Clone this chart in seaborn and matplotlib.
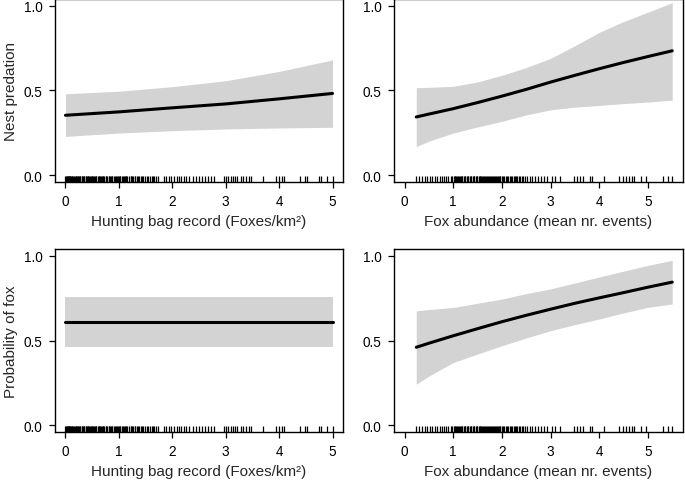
import matplotlib
matplotlib.use("Agg")
import matplotlib.pyplot as plt
import seaborn as sns

# x grids of the fitted curves
hunting_x = [0, 1, 2, 3, 4, 5]
fox_x = [0.24, 0.5, 1, 1.5, 2, 2.5, 3, 3.5, 4, 4.5, 5, 5.5]

# nest predation ~ hunting bag
pred_hunt_fit = [0.353, 0.373, 0.397, 0.420, 0.450, 0.482]
pred_hunt_hi = [0.480, 0.495, 0.522, 0.557, 0.612, 0.680]
pred_hunt_lo = [0.228, 0.248, 0.262, 0.272, 0.278, 0.282]

# nest predation ~ fox abundance
pred_fox_fit = [0.343, 0.360, 0.392, 0.428, 0.466, 0.506, 0.549, 0.589, 0.628, 0.665, 0.700, 0.734]
pred_fox_hi = [0.516, 0.518, 0.524, 0.550, 0.589, 0.635, 0.689, 0.764, 0.843, 0.907, 0.962, 1.018]
pred_fox_lo = [0.168, 0.200, 0.248, 0.284, 0.317, 0.355, 0.385, 0.401, 0.411, 0.422, 0.431, 0.442]

# probability of fox ~ hunting bag (flat)
pfox_hunt_fit = [0.612, 0.612, 0.612, 0.612, 0.612, 0.612]
pfox_hunt_hi = [0.758, 0.758, 0.758, 0.758, 0.758, 0.758]
pfox_hunt_lo = [0.463, 0.463, 0.463, 0.463, 0.463, 0.463]

# probability of fox ~ fox abundance
pfox_fox_fit = [0.460, 0.484, 0.528, 0.570, 0.611, 0.649, 0.685, 0.720, 0.752, 0.783, 0.815, 0.845]
pfox_fox_hi = [0.675, 0.683, 0.695, 0.720, 0.745, 0.777, 0.805, 0.840, 0.875, 0.910, 0.944, 0.974]
pfox_fox_lo = [0.242, 0.290, 0.370, 0.420, 0.469, 0.515, 0.558, 0.594, 0.627, 0.663, 0.696, 0.716]

# observed covariate values (rug)
hunting_bag = [0.00, 0.01, 0.02, 0.03, 0.04, 0.05, 0.06, 0.07, 0.08, 0.09, 0.11, 0.12,
               0.13, 0.15, 0.16, 0.17, 0.19, 0.20, 0.21, 0.23, 0.24, 0.26, 0.27, 0.28,
               0.30, 0.31, 0.33, 0.34, 0.35, 0.38, 0.39, 0.40, 0.42, 0.43, 0.44, 0.46,
               0.47, 0.49, 0.50, 0.52, 0.53, 0.55, 0.57, 0.58, 0.60, 0.62, 0.63, 0.65,
               0.66, 0.68, 0.70, 0.71, 0.72, 0.75, 0.76, 0.78, 0.81, 0.82, 0.83, 0.86,
               0.87, 0.88, 0.91, 0.92, 0.94, 0.97, 0.98, 1.00, 1.02, 1.03, 1.05, 1.08,
               1.09, 1.11, 1.13, 1.14, 1.16, 1.19, 1.22, 1.23, 1.25, 1.27, 1.30, 1.31,
               1.34, 1.36, 1.38, 1.41, 1.44, 1.46, 1.48, 1.52, 1.55, 1.58, 1.62, 1.63,
               1.66, 1.70, 1.74, 1.85, 1.88, 1.93, 1.97, 2.04, 2.08, 2.12, 2.17, 2.22,
               2.26, 2.32, 2.38, 2.44, 2.50, 2.56, 2.62, 2.66, 2.72, 2.78, 2.97, 3.01,
               3.05, 3.09, 3.13, 3.18, 3.22, 3.28, 3.33, 3.38, 3.44, 3.47, 3.69, 3.94,
               4.00, 4.05, 4.10, 4.40, 4.48, 4.53, 4.75, 4.78, 4.90, 5.00]
fox_abundance = [0.24, 0.30, 0.36, 0.41, 0.47, 0.52, 0.56, 0.62, 0.67, 0.72, 0.76, 0.82,
                 0.86, 0.90, 0.95, 0.98, 1.01, 1.03, 1.04, 1.06, 1.07, 1.10, 1.12, 1.13,
                 1.16, 1.18, 1.19, 1.22, 1.24, 1.25, 1.28, 1.30, 1.31, 1.34, 1.36, 1.37,
                 1.40, 1.42, 1.43, 1.46, 1.48, 1.49, 1.52, 1.54, 1.55, 1.58, 1.60, 1.61,
                 1.64, 1.66, 1.67, 1.70, 1.72, 1.73, 1.76, 1.78, 1.79, 1.82, 1.84, 1.85,
                 1.88, 1.90, 1.91, 1.94, 1.96, 1.97, 2.00, 2.02, 2.04, 2.08, 2.10, 2.12,
                 2.16, 2.18, 2.20, 2.24, 2.26, 2.28, 2.32, 2.35, 2.37, 2.42, 2.44, 2.47,
                 2.52, 2.57, 2.62, 2.68, 2.74, 2.80, 2.87, 2.93, 3.02, 3.10, 3.20, 3.48,
                 3.54, 3.60, 3.66, 3.80, 3.86, 4.10, 4.41, 4.48, 4.55, 4.62, 4.68, 4.72,
                 4.86, 4.97, 5.31, 5.42, 5.50]

sns.set_style("ticks")
plt.rcParams['font.family'] = ['Liberation Sans', 'DejaVu Sans']

fig = plt.figure(figsize=(6.85, 4.81), dpi=100)

panels = [
    # (rect, x, fit, hi, lo, rug, xlim, xlabel, ylabel)
    ([0.080, 0.620, 0.421, 0.380], hunting_x, pred_hunt_fit, pred_hunt_hi, pred_hunt_lo,
     hunting_bag, (-0.2, 5.2), "Hunting bag record (Foxes/km²)", "Nest predation"),
    ([0.575, 0.620, 0.422, 0.380], fox_x, pred_fox_fit, pred_fox_hi, pred_fox_lo,
     fox_abundance, (-0.22, 5.72), "Fox abundance (mean nr. events)", ""),
    ([0.080, 0.100, 0.421, 0.380], hunting_x, pfox_hunt_fit, pfox_hunt_hi, pfox_hunt_lo,
     hunting_bag, (-0.2, 5.2), "Hunting bag record (Foxes/km²)", "Probability of fox"),
    ([0.575, 0.100, 0.422, 0.380], fox_x, pfox_fox_fit, pfox_fox_hi, pfox_fox_lo,
     fox_abundance, (-0.22, 5.72), "Fox abundance (mean nr. events)", ""),
]

for rect, x, fit, hi, lo, rug, xlim, xlabel, ylabel in panels:
    ax = fig.add_axes(rect)
    ax.fill_between(x, lo, hi, color="#d3d3d3", linewidth=0)
    sns.lineplot(x=x, y=fit, ax=ax, color="black", linewidth=2.2)
    sns.rugplot(x=rug, ax=ax, height=0.03, color="black", linewidth=0.9)
    ax.set_xlim(*xlim)
    ax.set_ylim(-0.04, 1.04)
    ax.set_xticks([0, 1, 2, 3, 4, 5])
    ax.set_yticks([0.0, 0.5, 1.0])
    ax.set_yticklabels(["0.0", "0.5", "1.0"])
    ax.set_xlabel(xlabel, fontsize=11, labelpad=4)
    ax.set_ylabel(ylabel, fontsize=11, labelpad=4)
    ax.tick_params(labelsize=9.8, length=4, width=0.9, pad=5, colors="black")
    for s in ax.spines.values():
        s.set_linewidth(1.0)
        s.set_color("black")

fig.savefig("out.png", dpi=100)
